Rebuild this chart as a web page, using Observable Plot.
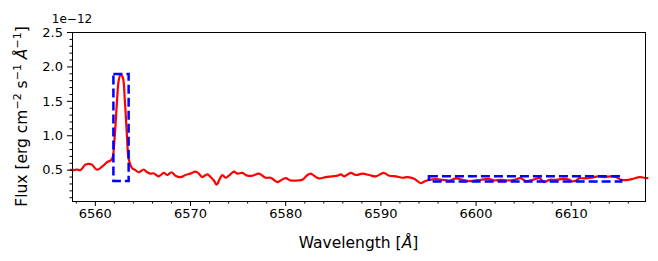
<!DOCTYPE html>
<html><head><meta charset="utf-8">
<script src="https://cdn.jsdelivr.net/npm/d3@7"></script>
<script src="https://cdn.jsdelivr.net/npm/@observablehq/plot@0.6"></script>
<style>
body{margin:0;background:#fff}
#chart{width:658px;height:261px}
</style>
</head><body><div id="chart"></div>
<script>
// Wavelength in Å, flux in units of 1e-12 erg cm^-2 s^-1 Å^-1
const wavelength = [6557.4, 6557.7, 6558.07, 6558.42, 6558.95, 6559.3, 6559.65, 6560.18, 6560.7, 6561.23, 6561.58, 6561.8,
  6562.03, 6562.28, 6562.45, 6562.66, 6562.88, 6563.1, 6563.33, 6563.5, 6563.86, 6564.2, 6564.56, 6565.08, 6565.44,
  6565.79, 6566.1, 6566.66, 6567.19, 6567.55, 6568.0, 6568.42, 6568.95, 6569.47, 6570.0, 6570.53, 6570.87, 6571.23,
  6571.76, 6572.1, 6572.45, 6572.74, 6573.08, 6573.34, 6573.68, 6574.03, 6574.56, 6574.92, 6575.44, 6575.97, 6576.5,
  6577.19, 6577.9, 6578.42, 6578.95, 6579.13, 6579.47, 6580.0, 6580.53, 6581.23, 6581.76, 6582.28, 6582.63, 6582.98,
  6583.5, 6584.2, 6584.9, 6585.44, 6585.79, 6586.14, 6586.84, 6587.37, 6588.07, 6588.77, 6589.47, 6590.28, 6590.87,
  6591.58, 6592.28, 6592.8, 6593.5, 6593.86, 6594.2, 6594.56, 6595.08, 6595.79, 6596.5, 6597.19, 6597.9, 6598.6,
  6599.29, 6599.8, 6600.53, 6601.23, 6601.93, 6602.63, 6603.3, 6604.03, 6604.66, 6605.26, 6605.97, 6606.66, 6607.13,
  6607.72, 6608.42, 6609.13, 6609.82, 6610.0, 6610.53, 6610.87, 6611.4, 6612.1, 6612.81, 6613.5, 6614.2, 6614.7,
  6615.26, 6615.97, 6616.5, 6617.19, 6617.7, 6618.0];
const flux = [0.506, 0.50, 0.51, 0.50, 0.58, 0.593, 0.58, 0.506, 0.55, 0.616, 0.64, 0.68,
  0.98, 1.51, 1.80, 1.89, 1.85, 1.51, 0.98, 0.665, 0.53, 0.50, 0.47, 0.51, 0.47,
  0.45, 0.455, 0.41, 0.46, 0.43, 0.47, 0.42, 0.40, 0.43, 0.45, 0.48, 0.45, 0.40,
  0.44, 0.40, 0.35, 0.29, 0.375, 0.43, 0.39, 0.42, 0.48, 0.45, 0.46, 0.42, 0.42,
  0.45, 0.39, 0.39, 0.34, 0.326, 0.35, 0.384, 0.35, 0.35, 0.36, 0.43, 0.45, 0.42,
  0.38, 0.40, 0.41, 0.42, 0.44, 0.41, 0.46, 0.43, 0.45, 0.43, 0.41, 0.46, 0.42,
  0.41, 0.39, 0.40, 0.375, 0.34, 0.31, 0.335, 0.36, 0.37, 0.36, 0.35, 0.38, 0.36,
  0.34, 0.35, 0.36, 0.375, 0.35, 0.36, 0.35, 0.36, 0.384, 0.34, 0.36, 0.384, 0.326,
  0.36, 0.36, 0.375, 0.36, 0.34, 0.35, 0.384, 0.38, 0.39, 0.41, 0.40, 0.41, 0.40,
  0.36, 0.36, 0.375, 0.40, 0.39, 0.385];

// Selected regions (dashed boxes)
const boxStart = [6561.95, 6595.1];
const boxEnd = [6563.55, 6615.3];
const boxLow = [0.335, 0.33];
const boxHigh = [1.89, 0.405];

const xMajorTicks = [6560, 6570, 6580, 6590, 6600, 6610];
const xMinorTicks = [6558, 6562, 6564, 6566, 6568, 6572, 6574, 6576, 6578, 6582, 6584, 6586, 6588,
  6592, 6594, 6596, 6598, 6602, 6604, 6606, 6608, 6612, 6614, 6616];
const yMajorTicks = [0.5, 1.0, 1.5, 2.0, 2.5];
const yMinorTicks = [0.1, 0.2, 0.3, 0.4, 0.6, 0.7, 0.8, 0.9, 1.1, 1.2, 1.3, 1.4, 1.6, 1.7, 1.8, 1.9, 2.1, 2.2, 2.3, 2.4];
const offsetText = "1e\u221212";

const spectrum = wavelength.map((w, i) => ({w, f: flux[i]}));
const boxes = boxStart.map((s, i) => ({x1: s, x2: boxEnd[i], y1: boxLow[i], y2: boxHigh[i]}));

const ML = 72, MR = 13, MT = 32, MB = 60, W = 658, H = 261;
const TICK_FS = 13;

const chart = Plot.plot({
  width: W, height: H,
  marginLeft: ML, marginRight: MR, marginTop: MT, marginBottom: MB,
  style: {fontFamily: "DejaVu Sans", color: "black", background: "white"},
  x: {domain: [6557.6, 6617.8]},
  y: {domain: [0.045, 2.5]},
  marks: [
    Plot.line(spectrum, {x: "w", y: "f", stroke: "#ff0000", strokeWidth: 2.2, curve: "catmull-rom"}),
    Plot.rect(boxes, {x1: "x1", x2: "x2", y1: "y1", y2: "y2", fill: "none", stroke: "#0000ff",
      strokeWidth: 2.5, strokeDasharray: "9,4"}),
    Plot.axisX({ticks: xMajorTicks, tickSize: 5, text: null, label: null}),
    Plot.axisX({ticks: xMinorTicks, tickSize: 2.5, text: null, label: null}),
    Plot.axisY({ticks: yMajorTicks, tickSize: 5, text: null, label: null}),
    Plot.axisY({ticks: yMinorTicks, tickSize: 2.5, text: null, label: null}),
    Plot.text(xMajorTicks, {x: d => d, frameAnchor: "bottom", dy: 16, text: d => String(d),
      fontSize: TICK_FS, fill: "black", fontFamily: "DejaVu Sans"}),
    Plot.text(yMajorTicks, {y: d => d, frameAnchor: "left", dx: -9.5, textAnchor: "end",
      text: d3.format(".1f"), fontSize: TICK_FS, fill: "black", fontFamily: "DejaVu Sans"}),
    Plot.frame({stroke: "black", strokeWidth: 1})
  ]
});

document.getElementById("chart").appendChild(chart);

const svg = d3.select(chart);

// x label
const xl = svg.append("text")
  .attr("x", (ML + W - MR) / 2).attr("y", 248)
  .attr("text-anchor", "middle")
  .style("font-family", "DejaVu Sans").style("font-size", "15.5px").attr("fill", "black");
xl.append("tspan").text("Wavelength [");
xl.append("tspan").attr("font-style", "italic").text("\u00C5");
xl.append("tspan").text("]");

// y label
const yl = svg.append("text")
  .attr("transform", `translate(27,${(MT + H - MB) / 2}) rotate(-90)`)
  .attr("text-anchor", "middle")
  .style("font-family", "DejaVu Sans").style("font-size", "15.5px").attr("fill", "black");
yl.append("tspan").text("Flux [erg cm");
yl.append("tspan").style("font-size", "11px").attr("dy", -6).text("\u22122");
yl.append("tspan").attr("dy", 6).text(" s");
yl.append("tspan").style("font-size", "11px").attr("dy", -6).text("\u22121");
yl.append("tspan").attr("dy", 6).text(" ");
yl.append("tspan").attr("font-style", "italic").text("\u00C5");
yl.append("tspan").style("font-size", "11px").attr("dy", -6).text("\u22121");
yl.append("tspan").attr("dy", 6).text("]");

// offset text
svg.append("text").attr("x", ML).attr("y", 23)
  .style("font-family", "DejaVu Sans").style("font-size", "12px").attr("fill", "black")
  .text(offsetText);
</script>
</body></html>
